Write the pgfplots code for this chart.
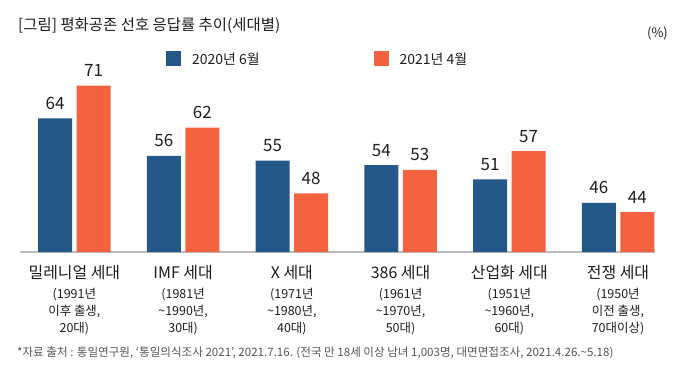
\documentclass[border=0pt]{standalone}
\usepackage{fontspec}
\setmainfont{Noto Sans CJK KR}
\usepackage{pgfplots}
\pgfplotsset{compat=1.18}
\definecolor{cblue}{HTML}{245889}
\definecolor{corange}{HTML}{F5623F}
\definecolor{axgray}{HTML}{BBBBBB}
\definecolor{txt}{HTML}{1E1E1E}
\definecolor{foot}{HTML}{555555}
\newcommand{\cat}[2]{\begin{tabular}{@{}c@{}}{\fontsize{16}{17}\selectfont #1}\\[3bp] #2\end{tabular}}
\begin{document}
\begin{tikzpicture}
\path[use as bounding box] (0bp,0bp) rectangle (695bp,-383bp);
\node[anchor=base west, inner sep=0, font=\fontsize{15.5}{18}\selectfont, text=txt] at (18bp,-30bp) {[그림] 평화공존 선호 응답률 추이(세대별)};
\node[anchor=base east, inner sep=0, font=\fontsize{13}{15}\selectfont, text=txt] at (668bp,-37bp) {(\%)};
\node[anchor=base west, inner sep=0, font=\fontsize{11.6}{13}\selectfont, text=foot] at (17bp,-356bp) {*자료 출처 : 통일연구원, ‘통일의식조사 2021’, 2021.7.16. (전국 만 18세 이상 남녀 1,003명, 대면면접조사, 2021.4.26.\textasciitilde 5.18)};
\begin{axis}[
  at={(20bp,-252bp)}, anchor=south west,
  scale only axis, width=635bp, height=208.7bp,
  ymin=35.5, ymax=80, xmin=-0.5, xmax=5.34,
  ybar=4.5bp, bar width=34bp,
  axis x line=bottom, axis y line=none,
  x axis line style={draw=axgray, line width=1.2bp, -},
  xtick=data, major tick length=0pt,
  xticklabels={
    {\cat{밀레니얼 세대}{(1991년\\이후 출생,\\20대)}},
    {\cat{IMF 세대}{(1981년\\\textasciitilde 1990년,\\30대)}},
    {\cat{X 세대}{(1971년\\\textasciitilde 1980년,\\40대)}},
    {\cat{386 세대}{(1961년\\\textasciitilde 1970년,\\50대)}},
    {\cat{산업화 세대}{(1951년\\\textasciitilde 1960년,\\60대)}},
    {\cat{전쟁 세대}{(1950년\\이전 출생,\\70대이상)}}
  },
  xticklabel style={anchor=north, inner sep=0pt, yshift=-13bp, font=\fontsize{12.5}{17}\selectfont, text=txt},
  clip=false,
  /pgf/number format/assume math mode=true,
  nodes near coords,
  every node near coord/.append style={anchor=base, inner sep=0pt, yshift=9bp, font=\fontsize{17}{20}\selectfont, text=txt},
  legend columns=2,
  legend style={at={(0.2299,0.9248)}, anchor=west, draw=none, fill=none, inner sep=0pt,
    font=\fontsize{14}{16}\selectfont, text=txt,
    nodes={inner sep=0pt, anchor=west},
    /tikz/every odd column/.append style={column sep=11bp},
    /tikz/every even column/.append style={column sep=114bp}},
]
\addplot[fill=cblue, draw=none, legend image code/.code={\fill[cblue] (0bp,-7.5bp) rectangle (15bp,7.5bp);}] coordinates {(0,64) (1,56) (2,55) (3,54) (4,51) (5,46)};
\addplot[fill=corange, draw=none, legend image code/.code={\fill[corange] (0bp,-7.5bp) rectangle (15bp,7.5bp);}] coordinates {(0,71) (1,62) (2,48) (3,53) (4,57) (5,44)};
\legend{2020년 6월, 2021년 4월}
\end{axis}
\end{tikzpicture}
\end{document}
